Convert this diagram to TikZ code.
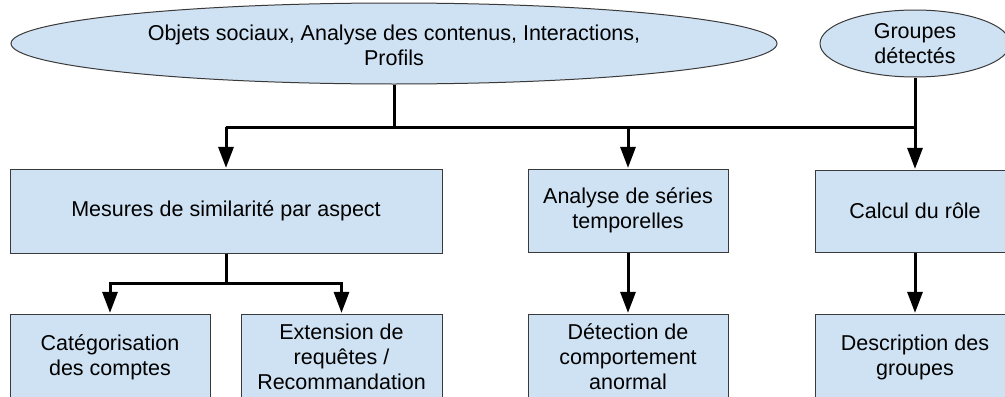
\documentclass[tikz,border=0pt]{standalone}
\usepackage{fontspec}
\setmainfont{Liberation Sans}
\usetikzlibrary{shapes.geometric,arrows.meta}
\definecolor{boxfill}{HTML}{CFE2F3}
\definecolor{boxline}{HTML}{3A3A3A}
\begin{document}
\begin{tikzpicture}[x=0.5pt,y=-0.5pt,
  every node/.style={font=\fontsize{10.75}{12.5}\selectfont, align=center},
  stepbox/.style={draw=boxline, line width=0.5pt, fill=boxfill, rectangle, inner sep=0pt},
  ovalbox/.style={draw=boxline, line width=0.5pt, fill=boxfill, ellipse, inner sep=0pt},
  conn/.style={line width=1.5pt, black},
  arr/.style={conn, -{Triangle[width=7.5pt,length=10.5pt]}, shorten >=0.3pt}]
\clip (0,0) rectangle (1005,396);
% ellipses
\node[ovalbox, minimum width=383pt, minimum height=40.5pt] (obj) at (394,43.5) {};
\node (objtxt) at (394,45.5) {Objets sociaux, Analyse des contenus, Interactions,\\Profils};
\node[ovalbox, minimum width=95pt, minimum height=33.5pt] (grp) at (915,43.5) {};
\node (grptxt) at (915,43.5) {Groupes\\détectés};
% first row boxes
\node[stepbox, minimum width=216pt, minimum height=42pt] (sim) at (226,211) {Mesures de similarité par aspect};
\node[stepbox, minimum width=100pt, minimum height=41.5pt] (ts) at (628,210.5) {Analyse de séries\\temporelles};
\node[stepbox, minimum width=100pt, minimum height=41pt] (calc) at (915,211) {Calcul du rôle};
% second row boxes
\node[stepbox, minimum width=100pt, minimum height=43pt] (cat) at (110,357) {Catégorisation\\des comptes};
\node[stepbox, minimum width=100.5pt, minimum height=43pt] (ext) at (341.5,357) {Extension de\\requêtes /\\Recommandation};
\node[stepbox, minimum width=100pt, minimum height=43pt] (det) at (628,357) {Détection de\\comportement\\anormal};
\node[stepbox, minimum width=100pt, minimum height=43pt] (desc) at (915,357) {Description des\\groupes};
% bus coordinates
\coordinate (busL) at (226,127);
\coordinate (busR) at (915,127);
\coordinate (bus2) at (226,283);
% connectors
\draw[conn] (obj.south) -- (obj.south |- busL);
\draw[conn] (busL) -- (busR);
\draw[arr] (busL) -- (sim.north);
\draw[arr] (ts.north |- busL) -- (ts.north);
\draw[arr] (grp.south) -- (calc.north);
\draw[conn] (sim.south) -- (bus2);
\draw[arr] (bus2) -| (cat.north);
\draw[arr] (bus2) -| (ext.north);
\draw[arr] (ts.south) -- (det.north);
\draw[arr] (calc.south) -- (desc.north);
\end{tikzpicture}
\end{document}
